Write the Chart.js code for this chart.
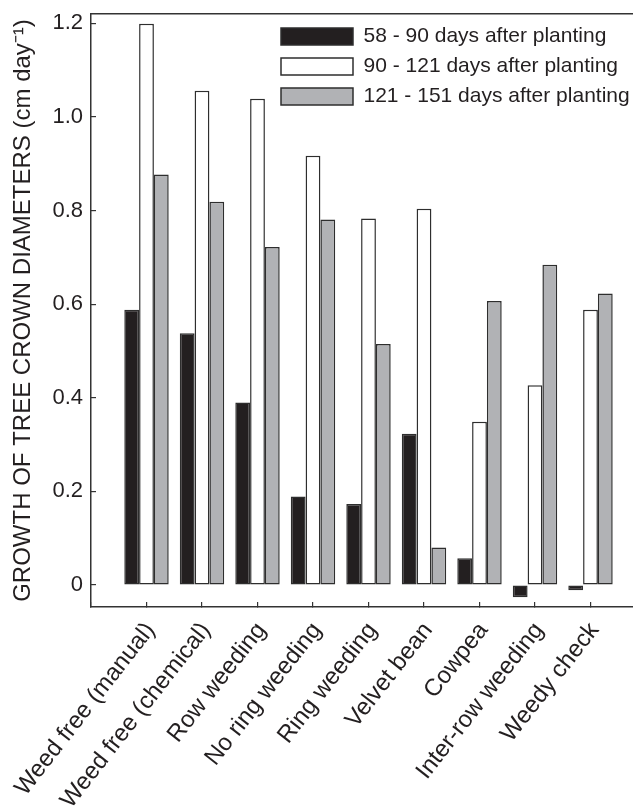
<!DOCTYPE html>
<html>
<head>
<meta charset="utf-8">
<title>Growth of tree crown diameters</title>
<script src="https://cdn.jsdelivr.net/npm/chart.js@4.4.1/dist/chart.umd.min.js"></script>
<style>
  html, body { margin: 0; padding: 0; background: #fff; overflow: hidden; }
  #wrap { width: 633px; height: 810px; overflow: hidden; }
  canvas { display: block; }
</style>
</head>
<body>
<div id="wrap"><canvas id="chart" width="646" height="810"></canvas></div>
<script>
// Weed-management treatments
const categories = [
  'Weed free (manual)', 'Weed free (chemical)', 'Row weeding', 'No ring weeding',
  'Ring weeding', 'Velvet bean', 'Cowpea', 'Inter-row weeding', 'Weedy check'
];

// Crown-diameter growth rate, cm per day, for each measurement interval
const days58to90   = [0.588, 0.538, 0.390, 0.189, 0.173, 0.323, 0.057, -0.026, -0.011];
const days90to121  = [1.199, 1.056, 1.039, 0.917, 0.783, 0.804, 0.349, 0.427, 0.588];
const days121to151 = [0.877, 0.819, 0.722, 0.781, 0.515, 0.080, 0.607, 0.684, 0.623];

const seriesNames = [
  '58 - 90 days after planting',
  '90 - 121 days after planting',
  '121 - 151 days after planting'
];

// Value axis
const yMin = -0.047;
const yMax = 1.22;
const yStep = 0.2;

// One empty slot either side of the treatments leaves the extra room at the axis ends
const labels = ['', ...categories, ''];
const pad = arr => [null, ...arr, null];

const ink = '#231f20';
const edge = '#2e2e2e';
const FONT = "Arial, 'Liberation Sans', Helvetica, sans-serif";

// Place the legend in the upper right of the plot
const legendPlacement = {
  id: 'legendPlacement',
  afterLayout(chart) {
    const lg = chart.legend;
    if (!lg) return;
    const w = lg.width, h = lg.height;
    lg.left = 272;
    lg.top = 17;
    lg.right = lg.left + w;
    lg.bottom = lg.top + h;
  }
};

// Keep the plot area flush with the frame (no tick-label overhang padding)
const noOverhang = scale => {
  scale.paddingLeft = 0; scale.paddingRight = 0;
  scale.paddingTop = 0; scale.paddingBottom = 0;
};

new Chart(document.getElementById('chart'), {
  type: 'bar',
  data: {
    labels: labels,
    datasets: [
      { label: seriesNames[0], data: pad(days58to90),   backgroundColor: ink,       borderColor: edge, borderWidth: 1.5, borderSkipped: false },
      { label: seriesNames[1], data: pad(days90to121),  backgroundColor: '#ffffff', borderColor: edge, borderWidth: 1.5, borderSkipped: false },
      { label: seriesNames[2], data: pad(days121to151), backgroundColor: '#b1b2b5', borderColor: edge, borderWidth: 1.5, borderSkipped: false }
    ]
  },
  options: {
    responsive: false,
    animation: false,
    devicePixelRatio: 1,
    categoryPercentage: 0.8,
    barPercentage: 1.0,
    layout: { padding: { top: 14, left: 0, right: 0, bottom: 0 } },
    plugins: {
      tooltip: { enabled: false },
      legend: {
        position: 'chartArea',
        align: 'start',
        labels: {
          boxWidth: 72,
          boxHeight: 17,
          padding: 9,
          color: ink,
          font: { family: FONT, size: 21 }
        }
      }
    },
    scales: {
      x: {
        type: 'category',
        position: 'bottom',
        offset: false,
        grid: { display: true, offset: false, drawOnChartArea: false, drawTicks: true, tickLength: -5, color: '#333', lineWidth: 1.2 },
        border: { display: true, color: '#333', width: 1.5 },
        ticks: {
          autoSkip: false,
          maxRotation: 52,
          minRotation: 52,
          padding: 15,
          labelOffset: 4,
          color: ink,
          font: { family: FONT, size: 24 }
        },
        afterFit(scale) { scale.height = 203; noOverhang(scale); }
      },
      xTop: {
        type: 'category',
        position: 'top',
        offset: false,
        grid: { display: false, offset: false },
        border: { display: true, color: '#333', width: 1.5 },
        ticks: { display: false },
        afterFit(scale) { scale.height = 0; noOverhang(scale); }
      },
      y: {
        type: 'linear',
        min: yMin,
        max: yMax,
        grid: { display: true, drawOnChartArea: false, drawTicks: true, tickLength: -5, color: '#333', lineWidth: 1.2 },
        border: { display: true, color: '#333', width: 1.5 },
        ticks: {
          stepSize: yStep,
          includeBounds: false,
          padding: 13,
          color: ink,
          font: { family: FONT, size: 22 },
          callback: v => Math.abs(v) < 1e-9 ? '0' : Number(v).toFixed(1)
        },
        title: {
          display: true,
          text: 'GROWTH OF TREE CROWN DIAMETERS (cm day\u207B\u00B9)',
          color: ink,
          font: { family: FONT, size: 24 },
          padding: { top: 9, bottom: 0 }
        },
        afterFit(scale) { scale.width = 91; noOverhang(scale); }
      }
    }
  },
  plugins: [legendPlacement]
});
</script>
</body>
</html>
